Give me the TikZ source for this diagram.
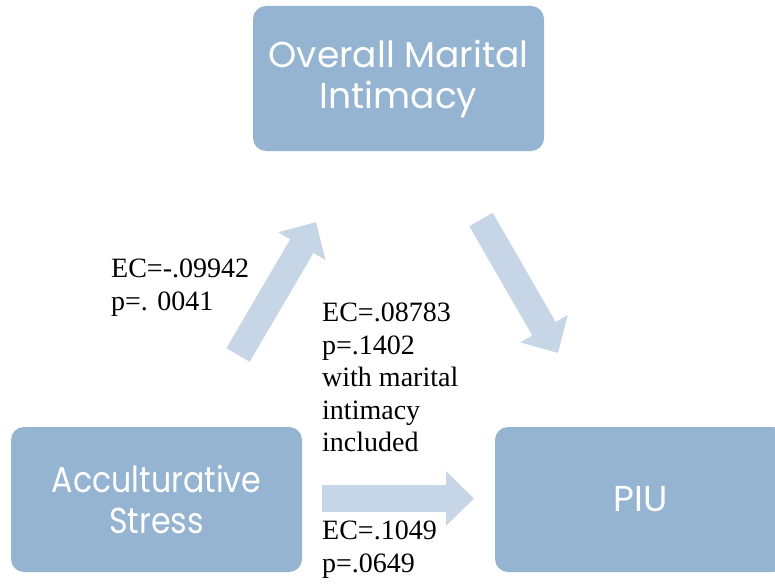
\documentclass[tikz,border=0pt]{standalone}
\usepackage{fontspec}
\setmainfont{Liberation Serif}
\newfontfamily\boxfont{Poppins}
\newfontfamily\narrowboxfont[FakeStretch=0.88]{Poppins}
\usetikzlibrary{arrows.meta}
\definecolor{boxblue}{RGB}{149,180,210}
\definecolor{arrowblue}{RGB}{199,214,230}
\tikzset{
  bluebox/.style={draw=none, fill=boxblue, rounded corners=13pt, minimum width=291pt, minimum height=145pt, inner sep=0pt, align=center, text=white, font=\boxfont\fontsize{36}{41}\selectfont},
  blockarrow/.style={draw=arrowblue, line width=27pt, -{Triangle[width=53pt,length=28pt]}},
  stat/.style={anchor=north west, inner sep=0pt, align=left, font=\fontsize{28}{32.5}\selectfont}
}
\begin{document}
\begin{tikzpicture}[x=1pt,y=-1pt]
\clip (0,0) rectangle (775,583);
\fill[white] (0,0) rectangle (775,583);
\node[bluebox] (omi) at (398.5,78.5) {Overall Marital\\Intimacy};
\node[bluebox, font=\narrowboxfont\fontsize{36}{41}\selectfont] (acc) at (156.5,499.5) {Acculturative\\Stress};
\node[bluebox] (piu) at (640.5,499.5) {PIU};
\coordinate (a1s) at (238,355);
\coordinate (a1e) at (316,222);
\coordinate (a2s) at (481,219.5);
\coordinate (a2e) at (558,353);
\coordinate (a3s) at (322,498.5);
\coordinate (a3e) at (474,498.5);
\draw[blockarrow] (a1s) -- (a1e);
\draw[blockarrow] (a2s) -- (a2e);
\draw[blockarrow] (a3s) -- (a3e);
\node[stat] (s1) at (111,259) {EC=-.09942\\p=. 0041};
\node[stat] (s2) at (322,303) {EC=.08783\\p=.1402\\with marital\\intimacy\\included};
\node[stat] (s3) at (322,521) {EC=.1049\\p=.0649};
\end{tikzpicture}
\end{document}
